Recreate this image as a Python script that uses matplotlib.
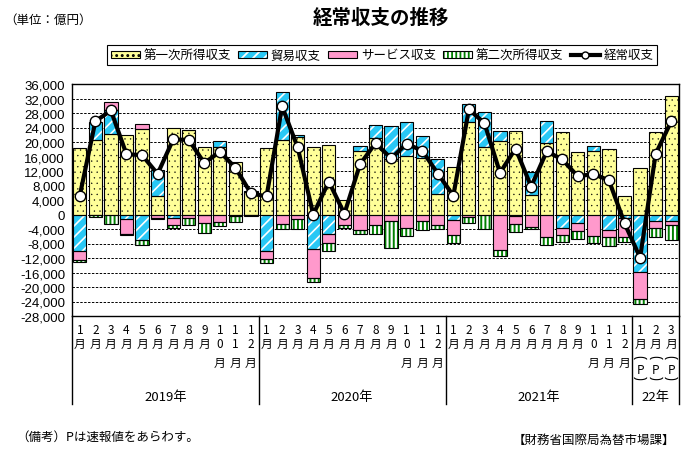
import matplotlib
matplotlib.use('Agg')
import matplotlib.pyplot as plt
import numpy as np
from matplotlib.patches import Patch
from matplotlib.lines import Line2D
from matplotlib.path import Path
from matplotlib.legend_handler import HandlerTuple
import matplotlib.transforms as mtransforms

plt.rcParams['font.family'] = ['Noto Sans CJK JP', 'DejaVu Sans']
plt.rcParams['hatch.linewidth'] = 1.3

# ---------------- data (単位: 億円) ----------------
year_labels = ['2019年', '2020年', '2021年', '22年']
year_lengths = [12, 12, 12, 3]
months = list(range(1, 13)) * 3 + [1, 2, 3]
preliminary = [False] * 36 + [True, True, True]

primary = [18300, 20600, 22100, 22000, 23500, 5000, 24000, 23200, 18500, 18700, 14600, 6100,
           18300, 20600, 21300, 18600, 19100, 3900, 17400, 21000, 15300, 16100, 15500, 5600,
           13000, 25400, 18600, 20200, 23000, 5400, 19700, 22700, 17200, 17500, 18000, 5100,
           12800, 22700, 32600]
trade = [-10100, 4900, 6800, -1200, -7100, 7200, -900, 200, -200, 1700, -400, 300,
         -10100, 13100, 700, -9600, -5400, 0, 1400, 3600, 9200, 9400, 6100, 9600,
         -1400, 5200, 9800, 2800, -300, 6200, 6000, -3800, -2400, 1500, -4300, -1000,
         -15900, -1800, -1700]
services = [-2400, -200, 2000, -4200, 1400, -1100, -2100, -1100, -2100, -2100, 0, -100,
            -2100, -2700, -1300, -7900, -2400, -3000, -4300, -2800, -1800, -3800, -1700, -2800,
            -4300, -600, 0, -9900, -2400, -3500, -6200, -1900, -2200, -6000, -1900, -5200,
            -7400, -1900, -1300]
secondary = [-500, -600, -2600, -200, -1400, -200, -700, -1800, -2700, -1100, -1700, -300,
             -1200, -1400, -2800, -1100, -2200, -700, -1100, -2600, -7400, -2200, -2700, -1200,
             -2100, -1700, -3900, -1600, -2200, -600, -2100, -1900, -2200, -1800, -2400, -1400,
             -1400, -2500, -4100]
current = [5200, 25700, 28700, 16600, 16400, 11200, 20700, 20600, 14200, 17300, 12900, 5800,
           5000, 29800, 18500, 0, 9100, 200, 13800, 19700, 15500, 19500, 17600, 11300,
           5200, 29000, 25200, 11500, 18200, 7700, 17400, 15200, 10500, 11200, 9400, -2400,
           -11900, 16700, 25700]

series_names = ['第一次所得収支', '貿易収支', 'サービス収支', '第二次所得収支', '経常収支']
y_ticks = list(range(-28000, 36001, 4000))

# ---------------- figure ----------------
W, H = 685, 460
fig = plt.figure(figsize=(W / 100, H / 100), dpi=100)
ax_l, ax_r, ax_t, ax_b = 72, 679, 85, 317
ax = fig.add_axes([ax_l / W, 1 - ax_b / H, (ax_r - ax_l) / W, (ax_b - ax_t) / H])

n = len(months)
x = np.arange(n)
styles = [
    dict(face='#FFFF99', hcol='black', hatch='...', hlw=0.2),
    dict(face='#29C8F5', hcol='white', hatch='///', hlw=1.2),
    dict(face='#FF99CC', hcol='#FF99CC', hatch=None, hlw=1.0),
    dict(face='white', hcol='#008000', hatch='||||', hlw=1.4),
]
pos_base = np.zeros(n)
neg_base = np.zeros(n)
bw = 0.85
for vals, st in zip([primary, trade, services, secondary], styles):
    v = np.array(vals, dtype=float)
    bottom = np.where(v >= 0, pos_base, neg_base)
    m = v != 0
    with plt.rc_context({'hatch.linewidth': st['hlw']}):
        ax.bar(x[m], v[m], bottom=bottom[m], width=bw, color=st['face'],
               edgecolor=st['hcol'], hatch=st['hatch'], linewidth=0, zorder=2)
    ax.bar(x[m], v[m], bottom=bottom[m], width=bw, facecolor='none',
           edgecolor='black', linewidth=0.8, zorder=3)
    pos_base += np.where(v > 0, v, 0)
    neg_base += np.where(v < 0, v, 0)

ax.plot(x, current, color='black', lw=3, marker='o', ms=7.5, mfc='white',
        mec='black', mew=1, zorder=5)

ax.set_xlim(-0.5, n - 0.5)
ax.set_ylim(y_ticks[0], y_ticks[-1])
ax.set_yticks(y_ticks)
ax.set_yticklabels([f'{t:,}' for t in y_ticks], fontfamily='Liberation Sans', fontsize=9.5)
ax.tick_params(axis='y', length=0, pad=5)
ax.set_xticks([])
ax.yaxis.grid(True, linestyle=(0, (2.5, 1.5)), color='black', lw=0.7)
ax.set_axisbelow(True)
for s in ax.spines.values():
    s.set_linewidth(1)

# ---------------- x labels ----------------
axh = ax_b - ax_t
trans = mtransforms.blended_transform_factory(ax.transData, ax.transAxes)
fs = 8.5
for i, (mo, pre) in enumerate(zip(months, preliminary)):
    if mo < 10:
        rows = [(str(mo), 13), ('月', 27.5)]
    else:
        rows = [('1', 13), (str(mo - 10), 27.5), ('月', 46)]
    if pre:
        rows += [('P', 370 - ax_b)]
    for ch, off in rows:
        ax.text(i, -off / axh, ch, transform=trans, ha='center', va='center', fontsize=fs)

# arcs around "P" (vertical parentheses)
th = np.linspace(0, np.pi, 20)
top_arc = Path(np.column_stack([np.cos(th), 0.35 * np.sin(th)]))
bot_arc = Path(np.column_stack([np.cos(th), -0.35 * np.sin(th)]))
xp = x[np.array(preliminary)]
ax.plot(xp, np.full(len(xp), -(360 - ax_b) / axh), transform=trans, ls='none',
        marker=top_arc, ms=9, mfc='none', mec='black', mew=0.8, clip_on=False)
ax.plot(xp, np.full(len(xp), -(378 - ax_b) / axh), transform=trans, ls='none',
        marker=bot_arc, ms=9, mfc='none', mec='black', mew=0.8, clip_on=False)

sep_bottom = -(405 - ax_b) / axh
edges = np.concatenate([[-0.5], np.cumsum(year_lengths) - 0.5])
for e in edges:
    ax.plot([e, e], [0, sep_bottom], transform=trans, color='black', lw=1, clip_on=False)
for k, lab in enumerate(year_labels):
    cx = (edges[k] + edges[k + 1]) / 2
    ax.text(cx, -(397 - ax_b) / axh, lab, transform=trans, ha='center', va='center', fontsize=9.5)

# ---------------- legend ----------------
outline = dict(facecolor='none', edgecolor='black', lw=0.8)
leg_patches = []
for st in styles:
    with plt.rc_context({'hatch.linewidth': st['hlw']}):
        leg_patches.append(Patch(facecolor=st['face'], edgecolor=st['hcol'], hatch=st['hatch'], lw=0))
handles = [(p, Patch(**outline)) for p in leg_patches]
handles.append(Line2D([], [], color='black', lw=3, marker='o', ms=5, mfc='white', mec='black'))
leg = fig.legend(handles, series_names, handler_map={tuple: HandlerTuple(ndivide=1)},
                 loc='center', bbox_to_anchor=(382 / W, 1 - 56 / H), ncol=5, frameon=True,
                 fancybox=False, edgecolor='black', framealpha=1, fontsize=9,
                 handlelength=2.3, handleheight=0.5, columnspacing=0.6, handletextpad=0.3,
                 borderpad=0.3)
leg.get_frame().set_linewidth(0.8)

# ---------------- texts ----------------
fig.text(381 / W, 1 - 18 / H, '経常収支の推移', ha='center', va='center', fontsize=14, fontweight='bold')
fig.text(4 / W, 1 - 20 / H, '（単位：億円）', ha='left', va='center', fontsize=9)
fig.text(16 / W, 1 - 437 / H, '（備考）Pは速報値をあらわす。', ha='left', va='center', fontsize=9)
fig.text(675 / W, 1 - 440 / H, '【財務省国際局為替市場課】', ha='right', va='center', fontsize=9)

fig.savefig('out.png', dpi=100)
